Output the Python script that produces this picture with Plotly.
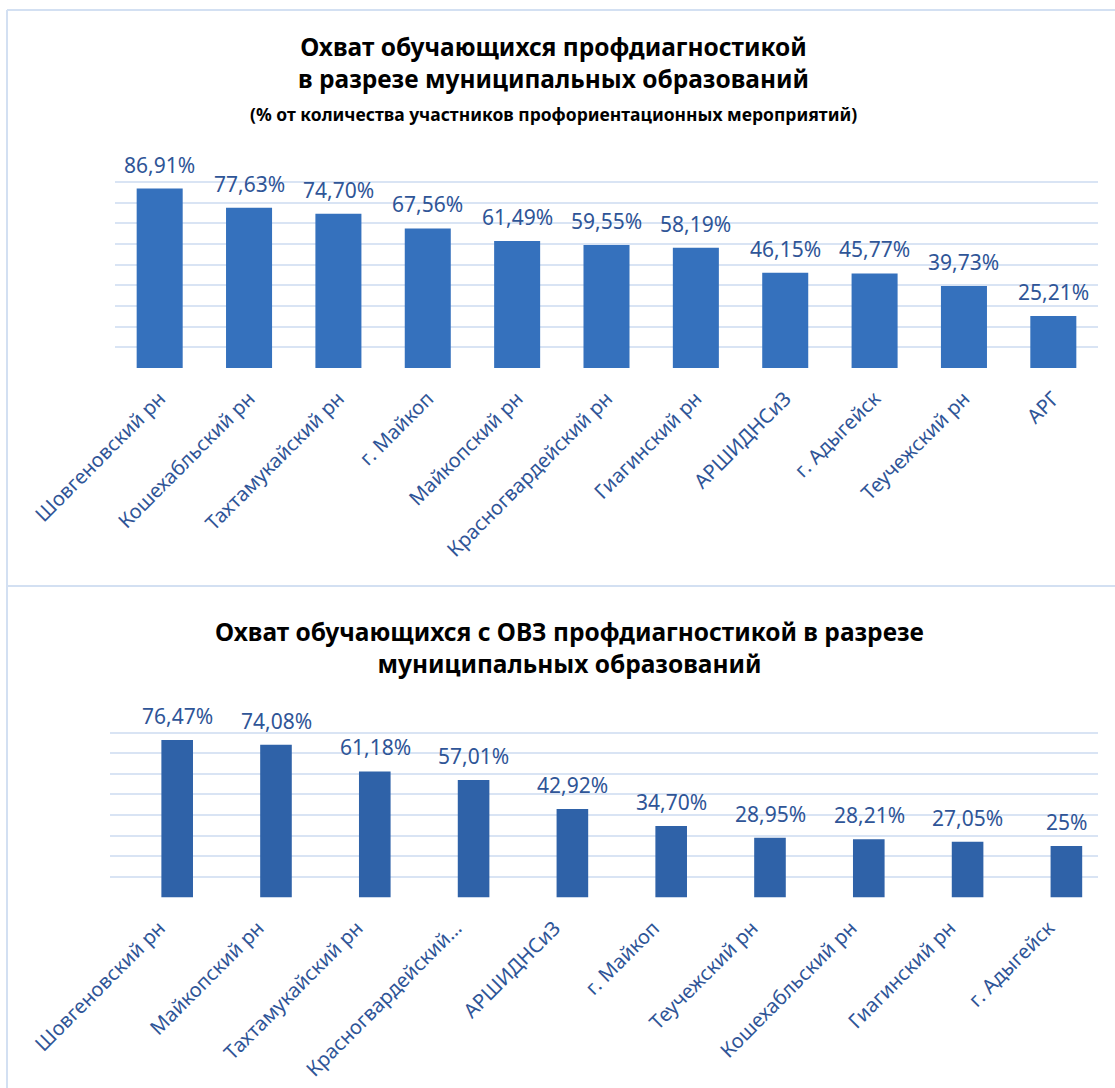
import plotly.graph_objects as go

W, H = 1115, 1088

# ---- data ----
cats_top = ["Шовгеновский рн", "Кошехабльский рн", "Тахтамукайский рн", "г. Майкоп",
            "Майкопский рн", "Красногвардейский рн", "Гиагинский рн", "АРШИДНСиЗ",
            "г. Адыгейск", "Теучежский рн", "АРГ"]
vals_top = [86.91, 77.63, 74.70, 67.56, 61.49, 59.55, 58.19, 46.15, 45.77, 39.73, 25.21]
labels_top = ["86,91%", "77,63%", "74,70%", "67,56%", "61,49%", "59,55%", "58,19%",
              "46,15%", "45,77%", "39,73%", "25,21%"]

cats_bot = ["Шовгеновский рн", "Майкопский рн", "Тахтамукайский рн", "Красногвардейский…",
            "АРШИДНСиЗ", "г. Майкоп", "Теучежский рн", "Кошехабльский рн",
            "Гиагинский рн", "г. Адыгейск"]
vals_bot = [76.47, 74.08, 61.18, 57.01, 42.92, 34.70, 28.95, 28.21, 27.05, 25.00]
labels_bot = ["76,47%", "74,08%", "61,18%", "57,01%", "42,92%", "34,70%", "28,95%",
              "28,21%", "27,05%", "25%"]

FONT = "Noto Sans"
TXT = "#2F5597"
GRID = "#D9E4F4"
BORDER = "#D3E0F2"

def px_x(p):
    return p / W

def px_y(p):
    return 1 - p / H

fig = go.Figure()

fig.add_trace(go.Bar(x=cats_top, y=vals_top, width=0.515,
                     marker=dict(color="#3571BD", line=dict(width=0)),
                     xaxis="x", yaxis="y", hoverinfo="skip"))
fig.add_trace(go.Bar(x=cats_bot, y=vals_bot, width=0.32, offset=0.02,
                     marker=dict(color="#2F62A8", line=dict(width=0)),
                     xaxis="x2", yaxis="y2", hoverinfo="skip"))

annotations = []
for c, v, t in zip(cats_top, vals_top, labels_top):
    annotations.append(dict(x=c, y=v, xref="x", yref="y", text=t, showarrow=False,
                            yanchor="bottom", yshift=8,
                            font=dict(family=FONT, size=21, color=TXT)))
for c, v, t in zip(cats_bot, vals_bot, labels_bot):
    annotations.append(dict(x=c, y=v, xref="x2", yref="y2", text=t, showarrow=False,
                            yanchor="bottom", yshift=8, xshift=18,
                            font=dict(family=FONT, size=21, color=TXT)))

# titles
annotations.append(dict(x=px_x(553), y=px_y(63), xref="paper", yref="paper",
                        text="<b>Охват обучающихся профдиагностикой<br>в разрезе муниципальных образований</b>",
                        showarrow=False, xanchor="center", yanchor="middle",
                        font=dict(family=FONT, size=24.5, color="#000000")))
annotations.append(dict(x=px_x(553), y=px_y(114), xref="paper", yref="paper",
                        text="<b>(% от количества участников профориентационных мероприятий)</b>",
                        showarrow=False, xanchor="center", yanchor="middle",
                        font=dict(family=FONT, size=17.5, color="#000000")))
annotations.append(dict(x=px_x(569), y=px_y(647), xref="paper", yref="paper",
                        text="<b>Охват обучающихся с ОВЗ профдиагностикой в разрезе<br>муниципальных образований</b>",
                        showarrow=False, xanchor="center", yanchor="middle",
                        font=dict(family=FONT, size=24.5, color="#000000")))

shapes = [
    dict(type="line", xref="paper", yref="paper", x0=px_x(7), x1=1.0, y0=px_y(10), y1=px_y(10),
         line=dict(color=BORDER, width=2)),
    dict(type="line", xref="paper", yref="paper", x0=px_x(7), x1=px_x(7), y0=px_y(10), y1=0,
         line=dict(color=BORDER, width=2)),
    dict(type="line", xref="paper", yref="paper", x0=px_x(7), x1=1.0, y0=px_y(586), y1=px_y(586),
         line=dict(color=BORDER, width=2)),
]

axis_common = dict(showline=False, zeroline=False, ticks="", automargin=False,
                   ticklabelstandoff=14,
                   tickfont=dict(family=FONT, size=20, color=TXT), tickangle=-45)
yaxis_common = dict(showticklabels=False, showgrid=True, gridcolor=GRID, gridwidth=1.5,
                    zeroline=False, showline=False, dtick=10, ticks="", automargin=False)

fig.update_layout(
    width=W, height=H,
    margin=dict(l=0, r=0, t=0, b=0, autoexpand=False),
    paper_bgcolor="white", plot_bgcolor="white",
    showlegend=False,
    xaxis=dict(domain=[px_x(115), px_x(1098)], anchor="y", range=[-0.5, 10.5], **axis_common),
    yaxis=dict(domain=[px_y(368), px_y(161.5)], anchor="x", range=[0, 100], **yaxis_common),
    xaxis2=dict(domain=[px_x(110), px_x(1098)], anchor="y2", range=[-0.5, 9.5], **axis_common),
    yaxis2=dict(domain=[px_y(897.5), px_y(712)], anchor="x2", range=[0, 90], **yaxis_common),
    annotations=annotations,
    shapes=shapes,
)

fig.write_html("out.html", config={"displayModeBar": False},
               post_script="document.body.style.margin='0';")
